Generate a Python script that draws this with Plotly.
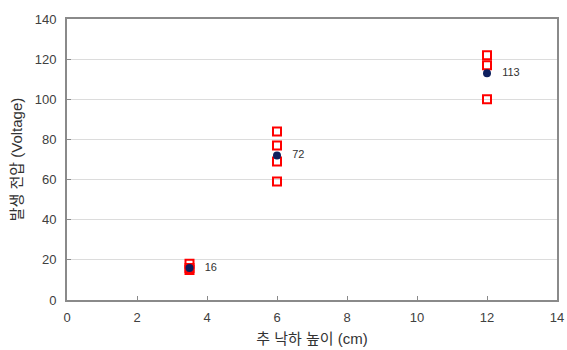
import plotly.graph_objects as go

# Drop heights (cm) and measured voltages for each trial
heights = [3.5, 6, 12]
trials = [
    [18, 16, 15],
    [84, 77, 69, 59],
    [122, 117, 100],
]
means = [round(sum(t) / len(t)) for t in trials]

x_ticks = [0, 2, 4, 6, 8, 10, 12, 14]
y_ticks = [0, 20, 40, 60, 80, 100, 120, 140]

trial_x = [h for h, t in zip(heights, trials) for _ in t]
trial_y = [v for t in trials for v in t]

font_family = "Arial, Liberation Sans, Noto Sans CJK KR, sans-serif"

fig = go.Figure()
fig.add_trace(go.Scatter(
    x=trial_x, y=trial_y, mode="markers",
    marker=dict(symbol="square-open", size=8, color="#ff0000", line=dict(width=2, color="#ff0000")),
    showlegend=False, hoverinfo="x+y",
))
fig.add_trace(go.Scatter(
    x=heights, y=means, mode="markers+text",
    marker=dict(symbol="circle", size=8, color="#0d1f5e"),
    text=["   " + str(m) for m in means], textposition="middle right",
    textfont=dict(size=11, color="#333333", family=font_family),
    showlegend=False, hoverinfo="x+y",
))

axis_common = dict(
    showline=True, linecolor="#8a8a8a", linewidth=2, mirror=True,
    ticks="inside", ticklen=4, tickcolor="#8a8a8a",
    tickfont=dict(size=13, color="#404040", family=font_family),
    zeroline=False, automargin=False,
)

fig.update_xaxes(
    range=[0, 14], tickvals=x_ticks, showgrid=False, ticklabelstandoff=4,
    title=dict(text="추 낙하 높이 (cm)", font=dict(size=15, color="#333333", family=font_family), standoff=10),
    **axis_common,
)
fig.update_yaxes(
    range=[0, 140], tickvals=y_ticks, showgrid=True, gridcolor="#dcdcdc", gridwidth=1,
    ticklabelstandoff=6,
    title=dict(text="발생 전압 (Voltage)", font=dict(size=15, color="#333333", family=font_family), standoff=8),
    **axis_common,
)

fig.update_layout(
    width=567, height=350,
    margin=dict(l=67, r=10, t=19, b=50),
    paper_bgcolor="white", plot_bgcolor="white",
    font=dict(family=font_family),
)

fig.write_html("out.html")
